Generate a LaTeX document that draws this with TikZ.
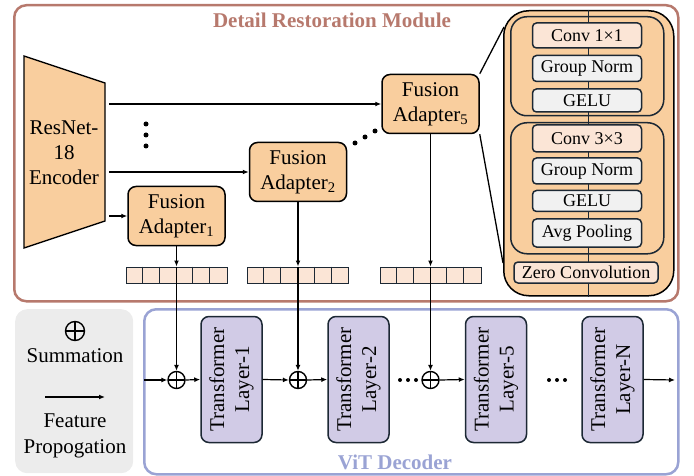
\documentclass[tikz,border=0pt]{standalone}
\usepackage{fontspec}
\setmainfont{Liberation Serif}
\usetikzlibrary{arrows.meta,calc}
\definecolor{modred}{RGB}{183,121,109}
\definecolor{vitblue}{RGB}{154,163,212}
\definecolor{peach}{RGB}{249,206,158}
\definecolor{lpeach}{RGB}{251,229,214}
\definecolor{lav}{RGB}{209,203,230}
\definecolor{dk}{RGB}{28,40,52}
\definecolor{lgray}{RGB}{241,241,241}
\definecolor{leg}{RGB}{236,236,236}
\begin{document}
\begin{tikzpicture}[x=1pt,y=-1pt,
  every node/.style={font=\fontsize{21}{25}\selectfont, inner sep=0pt},
  arr/.style={-{Latex[length=6pt,width=5pt]}, line width=1.2pt},
  fa/.style={draw=black, line width=1.5pt, fill=peach, rounded corners=8pt, minimum width=97pt, minimum height=59pt, align=center},
  tl/.style={draw=dk, line width=1.5pt, fill=lav, rounded corners=8pt, minimum width=61pt, minimum height=126pt},
  tltext/.style={rotate=90, align=center},
  sumnode/.style={circle, draw, line width=1.4pt, minimum size=17pt, path picture={\draw[line width=1.4pt] (path picture bounding box.north) -- (path picture bounding box.south) (path picture bounding box.west) -- (path picture bounding box.east);}},
  tok/.style={draw=dk, line width=1pt, fill=lpeach, minimum width=101pt, minimum height=16pt},
  ib/.style={draw=dk, line width=1.5pt, rounded corners=4pt, minimum width=109pt, font=\fontsize{18}{21}\selectfont},
  grp/.style={draw=dk, line width=1.5pt, rounded corners=16pt, fill=peach, anchor=north west},
  frame/.style={line width=2.5pt, rounded corners=12pt, anchor=north west},
]
\useasboundingbox (0,0) rectangle (694,476);

% ---------- frames ----------
\node[frame, draw=modred, minimum width=664pt, minimum height=296pt] (drm) at (13,4) {};
\node[font=\bfseries\fontsize{21}{25}\selectfont, text=modred] (drmtitle) at (332,20) {Detail Restoration Module};
\node[frame, draw=vitblue, minimum width=534pt, minimum height=165pt] (vit) at (143,308) {};
\node[font=\bfseries\fontsize{21}{25}\selectfont, text=vitblue] (vittitle) at (395,462) {ViT Decoder};
\node[fill=leg, rounded corners=12pt, minimum width=118pt, minimum height=164pt, anchor=north west] (legend) at (15,309) {};

% ---------- legend ----------
\node[sumnode, minimum size=19pt] (legsum) at (75,331) {};
\node (legsumt) at (75,356) {Summation};
\coordinate (la1) at (45,397);
\coordinate (la2) at (105,397);
\draw[arr] (la1) -- (la2);
\node[align=center] (legft) at (75,436) {Feature\\[1pt]Propogation};

% ---------- encoder ----------
\draw[fill=peach, line width=1.3pt] (24,56) -- (105,83) -- (105,221) -- (24,248) -- cycle;
\node[align=center] (enc) at (64,153) {ResNet-\\18\\Encoder};
\coordinate (e5) at (109,104);
\coordinate (e2) at (109,172);
\coordinate (e1) at (109,216);
\foreach \yy in {124,135,146} \fill (146,\yy) circle (2.5pt);

% ---------- fusion adapters ----------
\node[fa] (fa1) at (176.5,216) {Fusion\\Adapter\textsubscript{1}};
\node[fa] (fa2) at (298,172) {Fusion\\Adapter\textsubscript{2}};
\node[fa] (fa5) at (430.5,104) {Fusion\\Adapter\textsubscript{5}};
\draw[arr] (e1) -- (fa1.west);
\draw[arr] (e2) -- (fa2.west);
\draw[arr] (e5) -- (fa5.west);
\fill (355,143) circle (2.5pt);
\fill (365,137) circle (2.5pt);
\fill (375,131) circle (2.5pt);

% ---------- tokens ----------
\foreach \n/\xx in {1/176.5, 2/298, 3/430.5}{
  \node[tok] (tok\n) at (\xx,275) {};
  \foreach \i in {1,...,5}
    \draw[dk, line width=1pt] ($(tok\n.north west)+(\i*101/6,0)$) -- ($(tok\n.south west)+(\i*101/6,0)$);
}

% ---------- summation nodes and transformer layers ----------
\node[sumnode] (s1) at (176.5,380) {};
\node[sumnode] (s2) at (298,380) {};
\node[sumnode] (s3) at (430.5,380) {};
\node[tl] (tl1) at (231.5,379.5) {};
\node[tl] (tl2) at (358.5,379.5) {};
\node[tl] (tl5) at (496,379.5) {};
\node[tl] (tlN) at (612.5,379.5) {};
\node[tltext] (tl1t) at (tl1) {Transformer\\Layer-1};
\node[tltext] (tl2t) at (tl2) {Transformer\\Layer-2};
\node[tltext] (tl5t) at (tl5) {Transformer\\Layer-5};
\node[tltext] (tlNt) at (tlN) {Transformer\\Layer-N};

\draw[arr] (fa1.south) -- (tok1.north);
\draw[arr] (fa2.south) -- (tok2.north);
\draw[arr] (fa5.south) -- (tok3.north);
\draw[arr] (tok1.north) -- (s1.north);
\draw[arr] (tok2.north) -- (s2.north);
\draw[arr] (tok3.north) -- (s3.north);

\coordinate (vin) at (144,380);
\coordinate (vout) at (675,380);
\draw[arr] (vin) -- (s1.west);
\draw[arr] (s1.east) -- (tl1.west);
\draw[arr] (tl1.east) -- (s2.west);
\draw[arr] (s2.east) -- (tl2.west);
\draw[arr] (s3.east) -- (tl5.west);
\draw[arr] (tlN.east) -- (vout);
\foreach \xx in {400,408,416,549,557,565} \fill (\xx,380) circle (2pt);

% ---------- fusion adapter detail ----------
\node[draw=black, line width=1.5pt, fill=peach, rounded corners=25pt, minimum width=170pt, minimum height=285pt, anchor=north west] (det) at (503,10) {};
\node[grp, minimum width=153pt, minimum height=99pt] (grp1) at (510,16) {};
\node[grp, minimum width=153pt, minimum height=131pt] (grp2) at (510,122) {};
\draw[dk, line width=1.2pt] (det.north) -- (det.south);
\node[ib, fill=lpeach, minimum height=25pt] (c1) at (587,35.5) {Conv 1×1};
\node[ib, fill=lgray, minimum height=26pt] (gn1) at (587,68.5) {Group Norm};
\node[ib, fill=lgray, minimum height=23pt] (ge1) at (587,100.5) {GELU};
\node[ib, fill=lpeach, minimum height=27pt] (c3) at (587,138.5) {Conv 3×3};
\node[ib, fill=lgray, minimum height=26pt] (gn2) at (587,171) {Group Norm};
\node[ib, fill=lgray, minimum height=21pt] (ge2) at (587,201) {GELU};
\node[ib, fill=lgray, minimum height=28pt] (ap) at (587,233) {Avg Pooling};
\node[ib, fill=lpeach, minimum height=21pt, minimum width=144pt] (zc) at (586,272.5) {Zero Convolution};

\coordinate (z1) at (504,27);
\coordinate (z2) at (503,263);
\draw[line width=1.3pt] (fa5.north east) -- (z1);
\draw[line width=1.3pt] (fa5.south east) -- (z2);
\end{tikzpicture}
\end{document}
